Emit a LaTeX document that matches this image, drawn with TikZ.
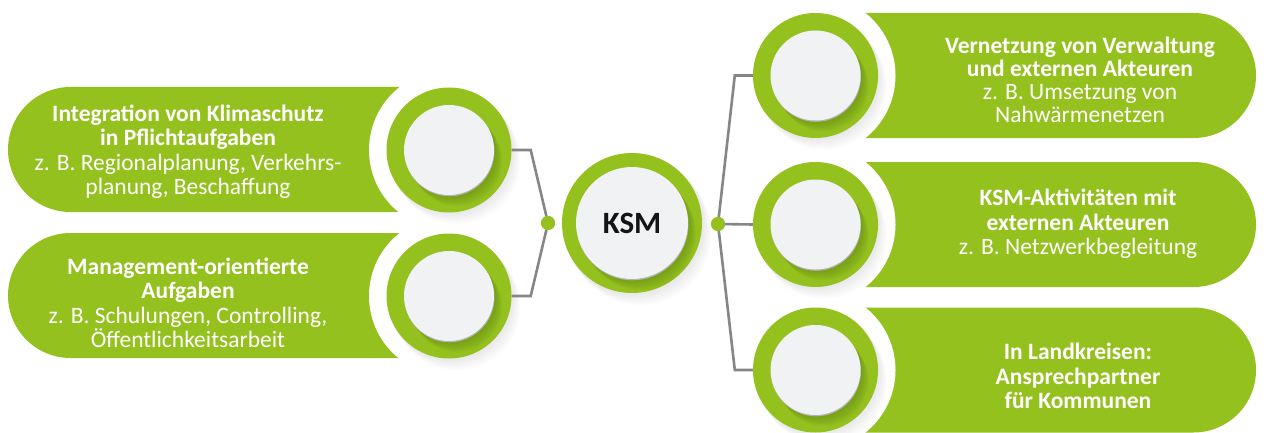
\documentclass[tikz,border=0pt]{standalone}
\usepackage{fontspec}
\setmainfont{Carlito}
\usetikzlibrary{calc}
\definecolor{kgreen}{HTML}{95C11F}
\definecolor{kdark}{HTML}{5E8410}
\definecolor{kdisc}{HTML}{F0F2F4}
\definecolor{kline}{HTML}{85868A}
\pgfdeclarelayer{back}
\pgfdeclarelayer{mid}
\pgfsetlayers{back,mid,main}
\tikzset{
  ringnode/.style={circle, fill=kgreen, inner sep=0pt, minimum size=125pt},
  bigring/.style={circle, fill=kgreen, inner sep=0pt, minimum size=140pt},
  dotnode/.style={circle, fill=kgreen, inner sep=0pt, minimum size=14pt},
  conn/.style={draw=kline, line width=2.6pt, line join=miter},
  pilltext/.style={text=white, align=center, font=\fontsize{23.5}{24.5}\selectfont},
  pilltexttight/.style={text=white, align=center, font=\fontsize{23.5}{23}\selectfont},
  pillfill/.style={fill=kgreen},
}
% disc with inner shadow: #1 centre name, #2 disc radius, #3 ring radius
\newcommand\kdiscdraw[3]{%
  \begin{scope}
    \clip (#1) circle[radius=#3];
    \foreach \k in {1.5,3,...,15}{
      \fill[kdark, opacity=0.065] ($(#1)+(\k*0.55,\k*0.75)$) circle[radius=#2];
    }
  \end{scope}
  \fill[gray!60] ($(#1)+(0.5,1.3)$) circle[radius=#2];
  \fill[kdisc] (#1) circle[radius=#2];
}
% faint outer shadow: #1 centre, #2 radius
\newcommand\kouter[2]{%
  \foreach \k in {2,4,...,14}{
    \fill[black, opacity=0.012] ($(#1)+(\k*0.6,\k*0.8)$) circle[radius=#2];
  }
}
\begin{document}
\begin{tikzpicture}[x=1pt,y=-1pt]
\useasboundingbox (0,0) rectangle (1268,433);

% ring nodes (main layer)
\node[ringnode] (cL1) at (449,150) {};
\node[ringnode] (cL2) at (449,296) {};
\node[ringnode] (cR1) at (815.5,75.5) {};
\node[ringnode] (cR2) at (815.5,224.5) {};
\node[ringnode] (cR3) at (815.5,370) {};
\node[bigring] (ksm) at (632,223) {};
\node[dotnode] (dl) at (548,223) {};
\node[dotnode] (dr) at (718,224) {};

\begin{pgfonlayer}{back}
  \fill[white] (0,0) rectangle (1268,433);
  % pills
  \fill[pillfill] (449,87) -- (70.5,87) arc[start angle=270, end angle=90, radius=62.5] -- (449,212) -- cycle;
  \fill[pillfill] (449,233) -- (70.5,233) arc[start angle=270, end angle=90, radius=62.5] -- (449,358) -- cycle;
  \fill[pillfill] (815,13) -- (1193.5,13) arc[start angle=-90, end angle=90, radius=62.5] -- (815,138) -- cycle;
  \fill[pillfill] (815,162) -- (1193.5,162) arc[start angle=-90, end angle=90, radius=62.5] -- (815,287) -- cycle;
  \fill[pillfill] (815,307.5) -- (1193.5,307.5) arc[start angle=-90, end angle=90, radius=62.5] -- (815,432.5) -- cycle;
  % white gaps
  \foreach \c in {cL1,cL2,cR1,cR2,cR3}{
    \fill[white] (\c) circle[radius=80];
  }
  % faint outer shadows
  \foreach \c in {cL1,cL2,cR1,cR2,cR3}{
    \kouter{\c}{63}
  }
  \kouter{ksm}{71}
\end{pgfonlayer}

\begin{pgfonlayer}{mid}
  \draw[conn] (cL1.east) -- ++(19,0) -- (dl.center);
  \draw[conn] (cL2.east) -- ++(19,0) -- (dl.center);
  \draw[conn] (cR1.west) -- ++(-18,0) -- (dr.center);
  \draw[conn] (dr.center) -- (cR2.west);
  \draw[conn] (cR3.west) -- ++(-18,0) -- (dr.center);
\end{pgfonlayer}

% redraw dots above lines
\fill[kgreen] (dl) circle[radius=7];
\fill[kgreen] (dr) circle[radius=7];

% discs
\kdiscdraw{cL1}{45}{62.5}
\kdiscdraw{cL2}{45}{62.5}
\kdiscdraw{cR1}{45}{62.5}
\kdiscdraw{cR2}{45}{62.5}
\kdiscdraw{cR3}{45}{62.5}
\kdiscdraw{ksm}{56}{70}

\node[font=\bfseries\fontsize{31}{31}\selectfont, text=black!92] (ksmt) at (ksm) {KSM};

% texts
\node[pilltext] (t1) at (188,152) {\textbf{Integration von Klimaschutz}\\\textbf{in Pflichtaufgaben}\\z. B. Regionalplanung, Verkehrs-\\planung, Beschaffung};
\node[pilltext] (t2) at (188,303) {\textbf{Management-orientierte}\\\textbf{Aufgaben}\\z. B. Schulungen, Controlling,\\Öffentlichkeitsarbeit};
\node[pilltexttight] (t3) at (1080,80) {\textbf{Vernetzung von Verwaltung}\\\textbf{und externen Akteuren}\\z. B. Umsetzung von\\Nahwärmenetzen};
\node[pilltext] (t4) at (1078,224) {\textbf{KSM-Aktivitäten mit}\\\textbf{externen Akteuren}\\z. B. Netzwerkbegleitung};
\node[pilltext] (t5) at (1078,376) {\textbf{In Landkreisen:}\\\textbf{Ansprechpartner}\\\textbf{für Kommunen}};
\end{tikzpicture}
\end{document}
